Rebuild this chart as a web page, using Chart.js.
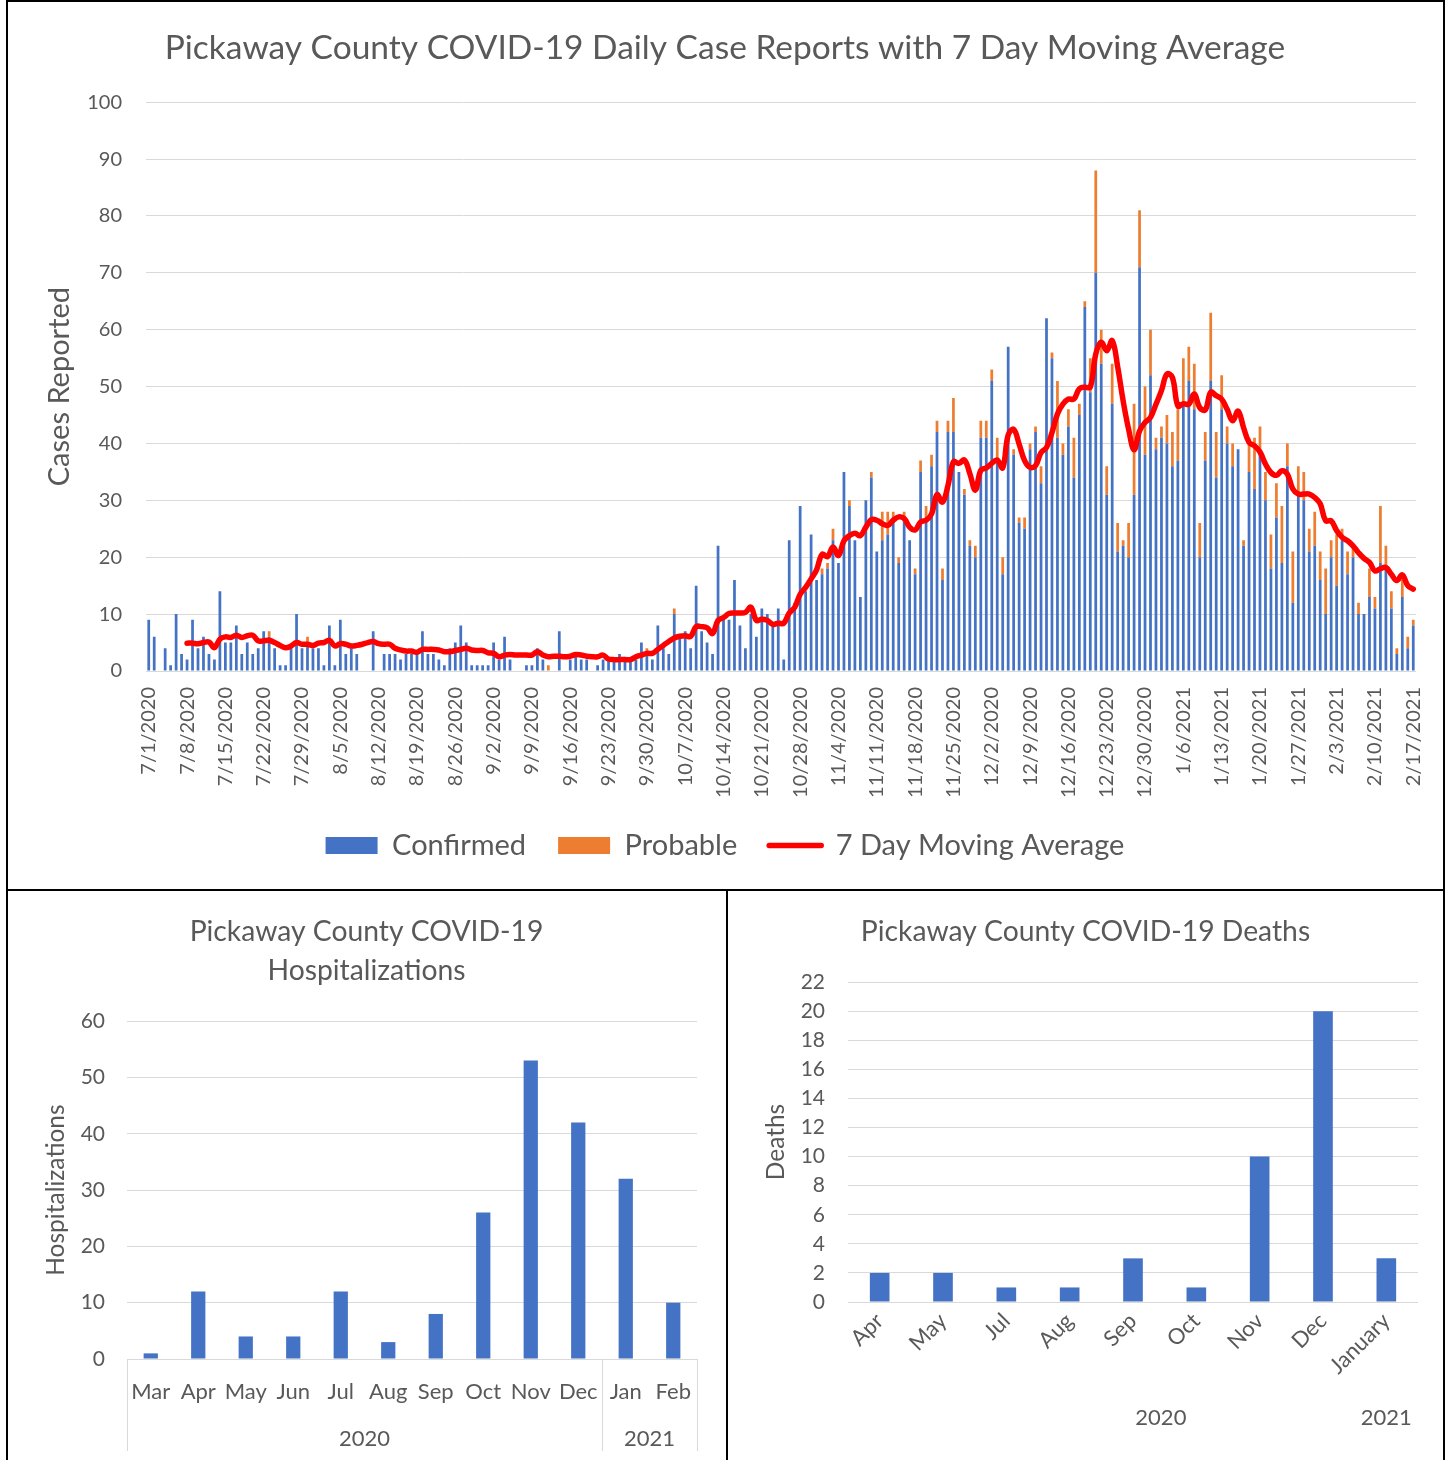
<!DOCTYPE html>
<html>
<head>
<meta charset="utf-8">
<script src="https://cdn.jsdelivr.net/npm/chart.js@4.4.0/dist/chart.umd.min.js"></script>
<style>
  body { margin: 0; background: #fff; }
  #page { position: relative; width: 1449px; height: 1460px; overflow: hidden; }
  .frame { position: absolute; border: 2px solid #000; box-sizing: border-box; }
  canvas { position: absolute; }
</style>
</head>
<body>
<div id="page">
  <div class="frame" style="left:6px;top:0;width:1439px;height:891px"></div>
  <div class="frame" style="left:6px;top:889px;width:722px;height:590px"></div>
  <div class="frame" style="left:726px;top:889px;width:719px;height:590px"></div>
  <canvas id="casesChart" style="left:8px;top:2px" width="1434" height="886"></canvas>
  <canvas id="hospChart" style="left:8px;top:891px" width="717" height="569"></canvas>
  <canvas id="deathChart" style="left:728px;top:891px" width="715" height="569"></canvas>
</div>
<script>
// daily cases, one row per week starting 7/1/2020
const confirmed = [
  9, 6, 0, 4, 1, 10, 3,
  2, 9, 4, 6, 3, 2, 14,
  5, 5, 8, 3, 5, 3, 4,
  7, 6, 4, 1, 1, 4, 10,
  4, 5, 4, 4, 1, 8, 1,
  9, 3, 4, 3, 0, 0, 7,
  0, 3, 3, 3, 2, 3, 3,
  3, 7, 3, 3, 2, 1, 4,
  5, 8, 5, 1, 1, 1, 1,
  5, 2, 6, 2, 0, 0, 1,
  1, 4, 2, 0, 0, 7, 0,
  2, 3, 2, 2, 0, 1, 2,
  2, 2, 3, 2, 2, 2, 5,
  3, 2, 8, 4, 3, 10, 6,
  7, 4, 15, 7, 5, 3, 22,
  9, 9, 16, 8, 4, 10, 6,
  11, 10, 8, 11, 2, 23, 12,
  29, 14, 24, 16, 17, 18, 23,
  19, 35, 29, 23, 13, 30, 34,
  21, 23, 24, 27, 19, 27, 23,
  17, 35, 26, 36, 42, 16, 42,
  42, 35, 31, 22, 20, 41, 41,
  51, 37, 17, 57, 38, 26, 25,
  39, 42, 33, 62, 55, 41, 38,
  43, 34, 45, 64, 49, 70, 54,
  31, 47, 21, 22, 20, 31, 71,
  38, 52, 39, 41, 40, 36, 37,
  47, 51, 46, 20, 37, 51, 34,
  46, 40, 36, 39, 22, 35, 32,
  38, 30, 18, 27, 19, 36, 12,
  31, 30, 21, 22, 16, 10, 20,
  15, 23, 17, 20, 10, 10, 13,
  11, 19, 18, 11, 3, 13, 4,
  8
];

const probable = [
  0, 0, 0, 0, 0, 0, 0,
  0, 0, 0, 0, 0, 0, 0,
  0, 0, 0, 0, 0, 0, 0,
  0, 1, 0, 0, 0, 0, 0,
  0, 1, 0, 0, 0, 0, 0,
  0, 0, 0, 0, 0, 0, 0,
  0, 0, 0, 0, 0, 0, 0,
  0, 0, 0, 0, 0, 0, 0,
  0, 0, 0, 0, 0, 0, 0,
  0, 0, 0, 0, 0, 0, 0,
  0, 0, 0, 1, 0, 0, 0,
  0, 0, 0, 0, 0, 0, 0,
  0, 0, 0, 0, 0, 0, 0,
  1, 0, 0, 0, 0, 1, 0,
  0, 0, 0, 0, 0, 0, 0,
  0, 0, 0, 0, 0, 0, 0,
  0, 0, 0, 0, 0, 0, 0,
  0, 0, 0, 0, 1, 1, 2,
  0, 0, 1, 0, 0, 0, 1,
  0, 5, 4, 1, 1, 1, 0,
  1, 2, 3, 2, 2, 2, 2,
  6, 0, 1, 1, 2, 3, 3,
  2, 4, 3, 0, 1, 1, 2,
  1, 1, 3, 0, 1, 10, 2,
  3, 7, 2, 1, 6, 18, 6,
  5, 7, 5, 1, 6, 16, 10,
  12, 8, 2, 2, 5, 6, 9,
  8, 6, 8, 6, 5, 12, 8,
  6, 3, 4, 0, 1, 6, 9,
  5, 5, 6, 6, 10, 4, 9,
  5, 5, 4, 6, 5, 8, 3,
  9, 2, 4, 2, 2, 0, 5,
  2, 10, 4, 3, 1, 3, 2,
  1
];

// red line
const movingAvg = [
  null, null, null, null, null, null, null,
  4.9, 4.9, 4.8, 5.0, 5.1, 4.1, 5.6,
  6.0, 5.9, 6.3, 5.9, 6.2, 6.3, 5.3,
  5.3, 5.4, 5.0, 4.5, 4.1, 4.4, 5.0,
  4.7, 4.7, 4.5, 4.9, 5.0, 5.4, 4.4,
  4.8, 4.7, 4.4, 4.5, 4.7, 5.0, 5.2,
  4.8, 4.7, 4.7, 4.0, 3.7, 3.5, 3.5,
  3.3, 3.8, 3.8, 3.8, 3.7, 3.4, 3.4,
  3.6, 3.8, 4.0, 3.7, 3.6, 3.6, 3.2,
  3.1, 2.5, 2.8, 2.9, 2.8, 2.8, 2.8,
  2.8, 3.4, 2.8, 2.5, 2.6, 2.6, 2.5,
  2.6, 2.9, 2.8, 2.6, 2.5, 2.5, 2.8,
  2.1, 2.0, 2.0, 2.0, 2.0, 2.5, 2.8,
  3.1, 3.1, 3.8, 4.5, 5.2, 5.8, 6.1,
  6.2, 6.1, 7.8, 7.8, 7.6, 6.6, 8.9,
  9.4, 10.1, 10.2, 10.2, 10.3, 11.2, 8.9,
  9.1, 8.9, 8.2, 8.4, 8.4, 10.2, 11.2,
  13.5, 14.7, 16.2, 17.8, 20.5, 20.1, 21.8,
  20.3, 22.9, 23.8, 24.2, 23.8, 25.3, 26.6,
  26.5, 25.9, 25.6, 26.5, 27.1, 26.8, 25.3,
  24.8, 26.2, 26.5, 27.6, 31.0, 29.7, 32.6,
  36.8, 36.5, 37.1, 34.7, 31.8, 35.3, 35.7,
  36.5, 37.1, 35.7, 41.5, 42.5, 39.9, 37.0,
  35.8, 36.1, 38.4, 39.3, 41.9, 45.2, 46.9,
  47.8, 47.8, 49.6, 49.9, 49.9, 55.7, 57.8,
  56.3, 58.1, 53.5, 47.5, 42.5, 38.9, 42.2,
  43.7, 44.6, 46.9, 49.3, 52.2, 51.6, 46.6,
  47.0, 46.9, 48.7, 46.3, 45.9, 49.0, 48.4,
  47.8, 46.0, 44.0, 45.7, 42.8, 40.2, 39.6,
  38.5, 36.4, 34.9, 34.4, 35.2, 34.6, 32.0,
  31.1, 31.1, 31.1, 30.5, 29.4, 26.4, 26.4,
  24.7, 23.5, 22.9, 22.0, 20.8, 19.8, 19.1,
  17.6, 18.0, 18.2, 17.0, 15.9, 16.9, 15.0,
  14.4
];

// one label per day from 7/1/2020 to 2/17/2021
const dayLabels = [];
for (let d = new Date(2020, 6, 1); d <= new Date(2021, 1, 17); d.setDate(d.getDate() + 1)) {
  dayLabels.push((d.getMonth() + 1) + "/" + d.getDate() + "/" + d.getFullYear());
}

const hospMonths = ["Mar", "Apr", "May", "Jun", "Jul", "Aug", "Sep", "Oct", "Nov", "Dec", "Jan", "Feb"];
const hospValues = [1, 12, 4, 4, 12, 3, 8, 26, 53, 42, 32, 10];
const hospYears = ["2020", "2021"];

const deathMonths = ["Apr", "May", "Jul", "Aug", "Sep", "Oct", "Nov", "Dec", "January"];
const deathValues = [2, 2, 1, 1, 3, 1, 10, 20, 3];
const deathYears = ["2020", "2021"];

const FONT = "Lato";
const GREY = "#595959";
const GRID = "#D9D9D9";
const BLUE = "#4472C4";
const ORANGE = "#ED7D31";

Chart.defaults.font.family = FONT;
Chart.defaults.color = GREY;
Chart.defaults.animation = false;

// ---------- daily cases ----------
new Chart(document.getElementById("casesChart"), {
  type: "bar",
  data: {
    labels: dayLabels,
    datasets: [
      { label: "Confirmed", data: confirmed, backgroundColor: BLUE, order: 1,
        barPercentage: 0.5, categoryPercentage: 1 },
      { label: "Probable", data: probable, backgroundColor: ORANGE, order: 1,
        barPercentage: 0.5, categoryPercentage: 1 },
      { label: "7 Day Moving Average", type: "line", data: movingAvg, order: 0,
        borderColor: "#FF0000", backgroundColor: "#FF0000", borderWidth: 5.5,
        pointRadius: 0, tension: 0.4, borderCapStyle: "round", borderJoinStyle: "round" }
    ]
  },
  options: {
    responsive: false,
    layout: { padding: { left: 0, right: 0, top: 0, bottom: 18 } },
    plugins: {
      tooltip: { enabled: false },
      title: {
        display: true,
        text: "Pickaway County COVID-19 Daily Case Reports with 7 Day Moving Average",
        color: GREY,
        font: { size: 33.5, weight: "normal", lineHeight: 1.2 },
        padding: { top: 26, bottom: 34 }
      },
      legend: {
        position: "bottom",
        labels: {
          color: GREY,
          font: { size: 29 },
          usePointStyle: true,
          pointStyleWidth: 52,
          boxHeight: 17,
          padding: 32,
          sort: (a, b) => a.datasetIndex - b.datasetIndex,
          generateLabels: (chart) => {
            const items = Chart.defaults.plugins.legend.labels.generateLabels(chart);
            items.forEach((it) => {
              if (it.datasetIndex === 2) {
                it.pointStyle = "line";
                it.lineWidth = 5.5;
                it.strokeStyle = "#FF0000";
                it.lineCap = "round";
              } else {
                it.pointStyle = "rect";
                it.lineWidth = 0;
              }
            });
            return items;
          }
        }
      }
    },
    scales: {
      x: {
        stacked: true,
        grid: { display: false, drawTicks: false },
        border: { display: false },
        ticks: {
          autoSkip: false,
          minRotation: 90,
          maxRotation: 90,
          padding: 16,
          font: { size: 20 },
          callback: function (value, index) {
            return index % 7 === 0 ? this.getLabelForValue(value) : "";
          }
        },
        afterFit: (scale) => {
          scale.height = 128;
          scale.paddingLeft = 0;
          scale.paddingRight = 26;
        }
      },
      y: {
        stacked: true,
        min: 0,
        max: 100,
        ticks: { stepSize: 10, padding: 24, font: { size: 20 } },
        grid: { color: GRID, drawTicks: false },
        border: { display: false },
        title: { display: true, text: "Cases Reported", font: { size: 29, lineHeight: 1.2 }, padding: { top: 34.6, bottom: 0 } },
        afterFit: (scale) => { scale.width = 138; }
      }
    }
  }
});

// draws the boundary lines of the two-level month / year axis
const yearDividers = {
  id: "yearDividers",
  afterDraw(chart, args, opts) {
    if (!opts.at) return;
    const ctx = chart.ctx;
    const x2 = chart.scales.x2;
    ctx.save();
    ctx.strokeStyle = GRID;
    ctx.lineWidth = 1;
    opts.at.forEach((v) => {
      const px = Math.round(x2.getPixelForValue(v)) + 0.5;
      ctx.beginPath();
      ctx.moveTo(px, chart.chartArea.bottom);
      ctx.lineTo(px, opts.bottom);
      ctx.stroke();
    });
    ctx.restore();
  }
};

function yearAxis(count, ticksAt, names, height, pad) {
  return {
    type: "linear",
    position: "bottom",
    weight: 1,
    offset: false,
    min: -0.5,
    max: count - 0.5,
    grid: { display: false, drawTicks: false },
    border: { display: false },
    afterBuildTicks: (scale) => { scale.ticks = ticksAt.map((v) => ({ value: v })); },
    ticks: { padding: pad, font: { size: 22 }, autoSkip: false, maxRotation: 0,
      callback: (value, index) => names[index] },
    afterFit: (scale) => {
      scale.height = height;
      scale.paddingLeft = 0;
      scale.paddingRight = 0;
    }
  };
}

// ---------- hospitalizations ----------
new Chart(document.getElementById("hospChart"), {
  type: "bar",
  data: {
    labels: hospMonths,
    datasets: [{ label: "Hospitalizations", data: hospValues, backgroundColor: BLUE,
      barPercentage: 0.3, categoryPercentage: 1 }]
  },
  plugins: [yearDividers],
  options: {
    responsive: false,
    layout: { padding: 0 },
    plugins: {
      legend: { display: false },
      tooltip: { enabled: false },
      yearDividers: { at: [-0.5, 9.5, 11.5], bottom: 560 },
      title: {
        display: true,
        text: ["Pickaway County COVID-19", "Hospitalizations"],
        color: GREY,
        font: { size: 28.3, weight: "normal", lineHeight: 1.38 },
        padding: { top: 21.5, bottom: 30.5 }
      }
    },
    scales: {
      x: {
        grid: { display: false, drawTicks: false },
        border: { display: false },
        ticks: { padding: 20, font: { size: 22 }, maxRotation: 0 },
        afterFit: (scale) => {
          scale.height = 60;
          scale.paddingLeft = 0;
          scale.paddingRight = 28;
        }
      },
      x2: yearAxis(12, [4.5, 10.5], hospYears, 41, 7),
      y: {
        min: 0,
        max: 60,
        ticks: { stepSize: 10, padding: 22, font: { size: 21 } },
        grid: { color: GRID, drawTicks: false },
        border: { display: false },
        title: { display: true, text: "Hospitalizations", font: { size: 24.5, lineHeight: 1.2 }, padding: { top: 33.3, bottom: 0 } },
        afterFit: (scale) => { scale.width = 119; }
      }
    }
  }
});

// ---------- deaths ----------
new Chart(document.getElementById("deathChart"), {
  type: "bar",
  data: {
    labels: deathMonths,
    datasets: [{ label: "Deaths", data: deathValues, backgroundColor: BLUE,
      barPercentage: 0.31, categoryPercentage: 1 }]
  },
  options: {
    responsive: false,
    layout: { padding: 0 },
    plugins: {
      legend: { display: false },
      tooltip: { enabled: false },
      title: {
        display: true,
        text: "Pickaway County COVID-19 Deaths",
        color: GREY,
        font: { size: 28.3, weight: "normal", lineHeight: 1.38 },
        padding: { top: 21.5, bottom: 30.5 }
      }
    },
    scales: {
      x: {
        grid: { display: false, drawTicks: false },
        border: { display: false },
        ticks: { padding: 6, font: { size: 22 }, minRotation: 45, maxRotation: 45, autoSkip: false },
        afterFit: (scale) => {
          scale.height = 100;
          scale.paddingLeft = 0;
          scale.paddingRight = 25;
        }
      },
      x2: yearAxis(9, [4.44, 8], deathYears, 58, 3),
      y: {
        min: 0,
        max: 22,
        ticks: { stepSize: 2, padding: 23, font: { size: 21 } },
        grid: { color: GRID, drawTicks: false },
        border: { display: false },
        title: { display: true, text: "Deaths", font: { size: 24.5, lineHeight: 1.2 }, padding: { top: 33.3, bottom: 0 } },
        afterFit: (scale) => { scale.width = 120; }
      }
    }
  }
});
</script>
</body>
</html>
